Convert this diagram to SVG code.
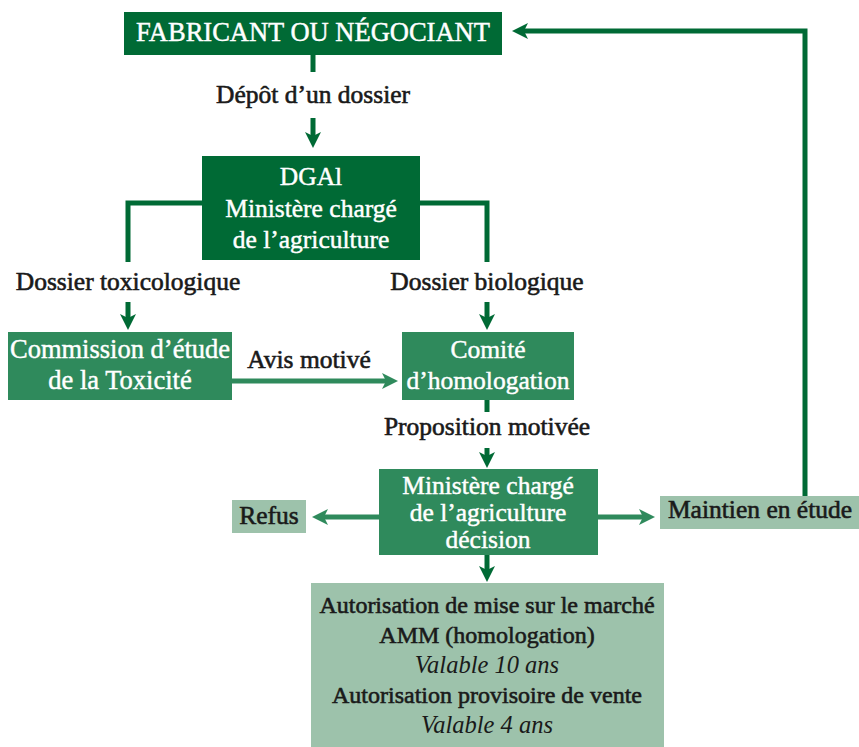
<svg xmlns="http://www.w3.org/2000/svg" width="859" height="747" viewBox="0 0 859 747">
<style>
.dark{fill:#006a35}
.mid{fill:#2f8a5c}
.light{fill:#9dc2ab}
text{font-family:"Liberation Serif","Times New Roman",serif;font-size:25.5px;text-anchor:middle}
.w{fill:#ffffff;stroke:#ffffff;stroke-width:0.45}
.k{fill:#1a1a1a;stroke:#1a1a1a;stroke-width:0.6;font-size:25.5px}
.a{font-size:24px}
.it{font-style:italic;stroke-width:0;font-size:24.5px}
.c{fill:none;stroke-width:5}
.cd{stroke:#006a35}
.cm{stroke:#2f8a5c}
</style>
<defs>
<marker id="ad" markerUnits="userSpaceOnUse" markerWidth="16" markerHeight="16" refX="4" refY="8" orient="auto"><path d="M0,0 L16,8 L0,16 L4,8 z" fill="#006a35"/></marker>
<marker id="am" markerUnits="userSpaceOnUse" markerWidth="16" markerHeight="16" refX="4" refY="8" orient="auto"><path d="M0,0 L16,8 L0,16 L4,8 z" fill="#2f8a5c"/></marker>
</defs>
<rect width="859" height="747" fill="#ffffff"/>
<g id="connectors">
<path class="c cd" d="M313,55 V72"/>
<path class="c cd" d="M313,118 V136" marker-end="url(#ad)"/>
<path class="c cd" d="M202,203 H128 V262"/>
<path class="c cd" d="M128,302 V318" marker-end="url(#ad)"/>
<path class="c cd" d="M420,203 H487 V262"/>
<path class="c cd" d="M487,302 V318" marker-end="url(#ad)"/>
<path class="c cm" d="M232,381 H386" marker-end="url(#am)"/>
<path class="c cd" d="M487,400 V412"/>
<path class="c cd" d="M487,448 V456" marker-end="url(#ad)"/>
<path class="c cm" d="M379,517 H324" marker-end="url(#am)"/>
<path class="c cm" d="M598,517 H643" marker-end="url(#am)"/>
<path class="c cd" d="M487,555 V570" marker-end="url(#ad)"/>
<path class="c cd" d="M805,496 V31 H524" marker-end="url(#ad)"/>
<text class="k" x="313" y="103">Dépôt d’un dossier</text>
<text class="k" x="128" y="290">Dossier toxicologique</text>
<text class="k" x="487" y="290">Dossier biologique</text>
<text class="k" x="309" y="368">Avis motivé</text>
<text class="k" x="487" y="435">Proposition motivée</text>
</g>
<g id="fabricant">
<rect class="dark" x="124" y="12" width="378" height="43"/>
<text class="w" x="313" y="41" style="font-size:26.5px">FABRICANT OU NÉGOCIANT</text>
</g>
<g id="dgal">
<rect class="dark" x="202" y="156" width="218" height="104"/>
<text class="w" x="311" y="185">DGAl</text>
<text class="w" x="311" y="217">Ministère chargé</text>
<text class="w" x="311" y="248">de l’agriculture</text>
</g>
<g id="commission">
<rect class="mid" x="8" y="332" width="224" height="68"/>
<text class="w" x="120" y="358" style="font-size:26.5px">Commission d’étude</text>
<text class="w" x="120" y="389" style="font-size:26.5px">de la Toxicité</text>
</g>
<g id="comite">
<rect class="mid" x="402" y="332" width="172" height="68"/>
<text class="w" x="488" y="358">Comité</text>
<text class="w" x="488" y="389">d’homologation</text>
</g>
<g id="ministere">
<rect class="mid" x="379" y="469" width="219" height="86"/>
<text class="w" x="488" y="494">Ministère chargé</text>
<text class="w" x="488" y="521">de l’agriculture</text>
<text class="w" x="488" y="548">décision</text>
</g>
<g id="refus">
<rect class="light" x="232" y="500" width="74" height="33"/>
<text class="k" x="269" y="524">Refus</text>
</g>
<g id="maintien">
<rect class="light" x="660" y="496" width="199" height="33"/>
<text class="k" x="760" y="518">Maintien en étude</text>
</g>
<g id="amm">
<rect class="light" x="311" y="583" width="353" height="164"/>
<text class="k a" x="487" y="613">Autorisation de mise sur le marché</text>
<text class="k a" x="487" y="643">AMM (homologation)</text>
<text class="k it" x="487" y="673">Valable 10 ans</text>
<text class="k a" x="487" y="703">Autorisation provisoire de vente</text>
<text class="k it" x="487" y="733">Valable 4 ans</text>
</g>
</svg>
